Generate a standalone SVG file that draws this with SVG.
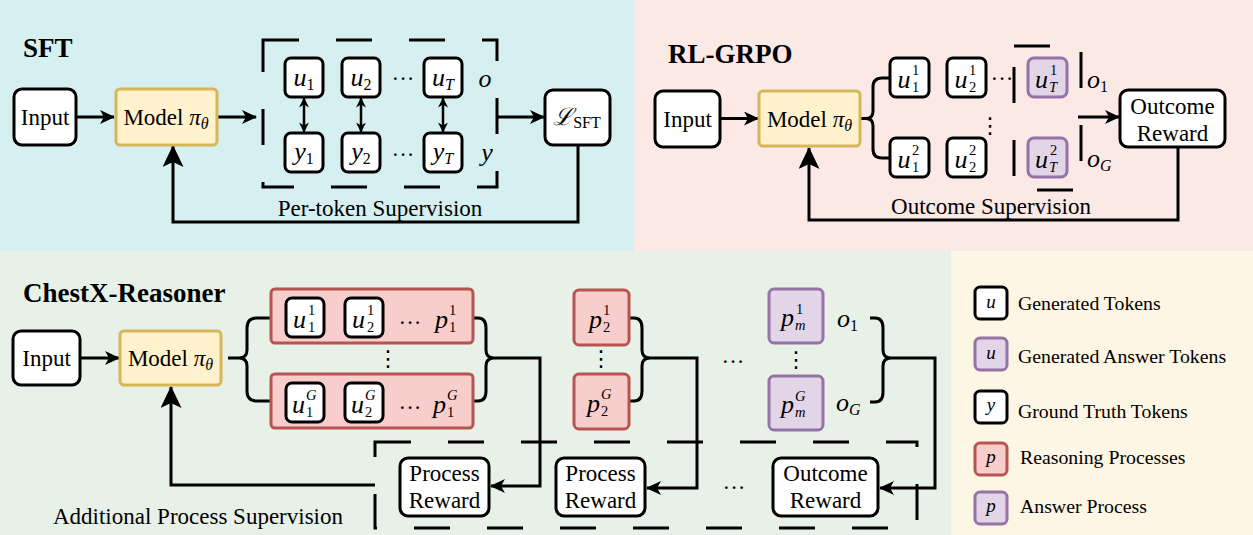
<svg xmlns="http://www.w3.org/2000/svg" width="1253" height="535" viewBox="0 0 1253 535">
<style>
.n{fill:#fff;stroke:#000;stroke-width:3}
.yl{fill:#fff2cc;stroke:#d6b656;stroke-width:3}
.r{fill:#f8cecc;stroke:#b85450;stroke-width:3}
.pu{fill:#e1d5e7;stroke:#9673a6;stroke-width:3}
.c{fill:none;stroke:#000;stroke-width:3}
.c2{fill:none;stroke:#000;stroke-width:2.5}
.d{fill:none;stroke:#000;stroke-width:3;stroke-dasharray:36 37}
text{font-family:"Liberation Serif","Times New Roman","DejaVu Serif",serif;font-size:23px;fill:#000}
.h{font-weight:bold;font-size:27px}
.i{font-style:italic}
.v{font-style:italic;font-size:26px}
.s{font-size:16px}
.t{font-size:14.5px}
.u{font-style:normal}
.lg{font-size:19.8px}
.li{font-style:italic;font-size:19px}
.vd{font-family:"DejaVu Sans",sans-serif;font-size:22px}
</style>
<defs>
<marker id="a" markerUnits="userSpaceOnUse" markerWidth="15" markerHeight="14" viewBox="0 0 15 14" refX="14" refY="7" orient="auto"><path d="M0,0 L15,7 L0,14 L4,7 z" fill="#000"/></marker>
<marker id="ab" markerUnits="userSpaceOnUse" markerWidth="22" markerHeight="21" viewBox="0 0 22 21" refX="21" refY="10.5" orient="auto"><path d="M0,0 L22,10.5 L0,21 L5,10.5 z" fill="#000"/></marker>
<marker id="as" markerUnits="userSpaceOnUse" markerWidth="10" markerHeight="10" viewBox="0 0 10 10" refX="9.5" refY="5" orient="auto-start-reverse"><path d="M0,0 L10,5 L0,10 L3,5 z" fill="#000"/></marker>
</defs>

<g id="backgrounds">
<rect x="0" y="0" width="634" height="251" fill="#d6eff0"/>
<rect x="634" y="0" width="619" height="251" fill="#fbe9e6"/>
<rect x="0" y="251" width="951" height="284" fill="#e8f1e8"/>
<rect x="951" y="251" width="302" height="284" fill="#fdf6e4"/>
</g>

<g id="titles">
<text class="h" x="23" y="57">SFT</text>
<text class="h" x="668" y="63">RL-GRPO</text>
<text class="h" x="23" y="302">ChestX-Reasoner</text>
</g>

<g id="groups">
<rect class="d" x="263" y="40" width="234" height="147"/>
<rect class="d" x="1014" y="46" width="67" height="144"/>
<rect class="d" x="375" y="442" width="542" height="86"/>
</g>

<g id="connectors">
<line class="c" x1="76" y1="117" x2="114" y2="117" marker-end="url(#a)"/>
<line class="c" x1="217" y1="117" x2="256" y2="117" marker-end="url(#a)"/>
<line class="c" x1="497" y1="117" x2="544" y2="117" marker-end="url(#a)"/>
<line class="c2" x1="304" y1="98" x2="304" y2="132" marker-start="url(#as)" marker-end="url(#as)"/>
<line class="c2" x1="361" y1="98" x2="361" y2="132" marker-start="url(#as)" marker-end="url(#as)"/>
<line class="c2" x1="443" y1="98" x2="443" y2="132" marker-start="url(#as)" marker-end="url(#as)"/>
<path class="c" d="M578,145 V222 H173 V146" marker-end="url(#ab)"/>
<line class="c" x1="720" y1="118.5" x2="758" y2="118.5" marker-end="url(#a)"/>
<path class="c" d="M860,118.5 H866 Q873,118.5 873,111 V87 Q873,78 882,78 H890 M866,118.5 Q873,118.5 873,126 V149 Q873,158 882,158 H890"/>
<line class="c" x1="1078" y1="117" x2="1119" y2="117" marker-end="url(#a)"/>
<path class="c" d="M1178,147 V220 H809 V148" marker-end="url(#ab)"/>
<line class="c" x1="80" y1="358" x2="119" y2="358" marker-end="url(#a)"/>
<path class="c" d="M228,358 H239 Q247,358 247,350 V328 Q247,318 257,318 H271 M239,358 Q247,358 247,366 V391 Q247,401 257,401 H271"/>
<path class="c" d="M473,318 H478 Q486,318 486,328 V350 Q486,358 494,358 M473,401 H478 Q486,401 486,391 V366 Q486,358 494,358 H540 V486 H491" marker-end="url(#a)"/>
<path class="c" d="M629,318 H634 Q642,318 642,328 V350 Q642,358 650,358 M629,401 H634 Q642,401 642,391 V366 Q642,358 650,358 H697 V488 H647" marker-end="url(#a)"/>
<path class="c" d="M870,318 H875 Q883,318 883,328 V350 Q883,358 891,358 M870,402 H875 Q883,402 883,392 V366 Q883,358 891,358 H935 V488 H880" marker-end="url(#a)"/>
<path class="c" d="M375,485 H171 V387" marker-end="url(#ab)"/>
</g>

<g id="sft-input"><rect class="n" x="14" y="89" width="62" height="56" rx="8"/><text x="45" y="125" text-anchor="middle">Input</text></g>
<g id="sft-model"><rect class="yl" x="116" y="89" width="101" height="56" rx="4"/><text x="166" y="125" text-anchor="middle">Model <tspan class="i">π</tspan><tspan class="i s" dy="4">θ</tspan></text></g>
<g id="sft-u1"><rect class="n" x="285" y="58" width="38" height="39" rx="6"/><text x="304" y="86" text-anchor="middle"><tspan class="v">u</tspan><tspan class="s" dy="4">1</tspan></text></g>
<g id="sft-u2"><rect class="n" x="342" y="58" width="38" height="39" rx="6"/><text x="361" y="86" text-anchor="middle"><tspan class="v">u</tspan><tspan class="s" dy="4">2</tspan></text></g>
<g id="sft-uT"><rect class="n" x="424" y="58" width="38" height="39" rx="6"/><text x="443" y="86" text-anchor="middle"><tspan class="v">u</tspan><tspan class="s i" dy="4">T</tspan></text></g>
<g id="sft-y1"><rect class="n" x="285" y="133" width="38" height="39" rx="6"/><text x="304" y="160" text-anchor="middle"><tspan class="v">y</tspan><tspan class="s" dy="4">1</tspan></text></g>
<g id="sft-y2"><rect class="n" x="342" y="133" width="38" height="39" rx="6"/><text x="361" y="160" text-anchor="middle"><tspan class="v">y</tspan><tspan class="s" dy="4">2</tspan></text></g>
<g id="sft-yT"><rect class="n" x="424" y="133" width="38" height="39" rx="6"/><text x="443" y="160" text-anchor="middle"><tspan class="v">y</tspan><tspan class="s i" dy="4">T</tspan></text></g>
<g id="sft-labels">
<text x="403" y="86" text-anchor="middle">···</text>
<text x="403" y="162" text-anchor="middle">···</text>
<text class="v" x="485" y="87" text-anchor="middle">o</text>
<text class="v" x="487" y="161" text-anchor="middle">y</text>
<text x="380" y="216" text-anchor="middle">Per-token Supervision</text>
</g>
<g id="sft-loss"><rect class="n" x="545" y="90" width="65" height="55" rx="8"/><text x="577" y="125" text-anchor="middle"><tspan class="i" font-size="24">ℒ</tspan><tspan class="s" dy="3">SFT</tspan></text></g>

<g id="rl-input"><rect class="n" x="655" y="91" width="65" height="56" rx="8"/><text x="687.5" y="127" text-anchor="middle">Input</text></g>
<g id="rl-model"><rect class="yl" x="759" y="91" width="101" height="55" rx="4"/><text x="809.5" y="127" text-anchor="middle">Model <tspan class="i">π</tspan><tspan class="i s" dy="4">θ</tspan></text></g>
<g id="rl-u11"><rect class="n" x="890" y="58" width="39" height="39" rx="6"/><text class="v" x="897.5" y="87.5">u<tspan class="t u" x="912" dy="-12.5">1</tspan><tspan class="t u" x="912" dy="16.5">1</tspan></text></g>
<g id="rl-u21"><rect class="n" x="947" y="58" width="39" height="39" rx="6"/><text class="v" x="954.5" y="87.5">u<tspan class="t u" x="969" dy="-12.5">1</tspan><tspan class="t u" x="969" dy="16.5">2</tspan></text></g>
<g id="rl-uT1"><rect class="pu" x="1028" y="58" width="39" height="39" rx="6"/><text class="v" x="1035" y="87.5">u<tspan class="t u" x="1050" dy="-12.5">1</tspan><tspan class="t" x="1049" dy="16.5">T</tspan></text></g>
<g id="rl-u12"><rect class="n" x="890" y="138" width="39" height="39" rx="6"/><text class="v" x="897.5" y="167.5">u<tspan class="t u" x="912" dy="-12.5">2</tspan><tspan class="t u" x="912" dy="16.5">1</tspan></text></g>
<g id="rl-u22"><rect class="n" x="947" y="138" width="39" height="39" rx="6"/><text class="v" x="954.5" y="167.5">u<tspan class="t u" x="969" dy="-12.5">2</tspan><tspan class="t u" x="969" dy="16.5">2</tspan></text></g>
<g id="rl-uT2"><rect class="pu" x="1028" y="138" width="39" height="39" rx="6"/><text class="v" x="1035" y="167.5">u<tspan class="t u" x="1050" dy="-12.5">2</tspan><tspan class="t" x="1049" dy="16.5">T</tspan></text></g>
<g id="rl-labels">
<text x="1002" y="86" text-anchor="middle">···</text>
<text class="vd" x="990" y="133" text-anchor="middle">⋮</text>
<text x="1087" y="88"><tspan class="v">o</tspan><tspan class="s" dy="4">1</tspan></text>
<text x="1087" y="167"><tspan class="v">o</tspan><tspan class="s i" dy="4">G</tspan></text>
<text x="991" y="214" text-anchor="middle">Outcome Supervision</text>
</g>
<g id="rl-reward"><rect class="n" x="1120" y="90" width="105" height="57" rx="8"/><text x="1172.5" y="114" text-anchor="middle">Outcome</text><text x="1172.5" y="141" text-anchor="middle">Reward</text></g>

<g id="cx-input"><rect class="n" x="13" y="331" width="67" height="54" rx="8"/><text x="46.5" y="366" text-anchor="middle">Input</text></g>
<g id="cx-model"><rect class="yl" x="120" y="331" width="101" height="54" rx="4"/><text x="170.5" y="366" text-anchor="middle">Model <tspan class="i">π</tspan><tspan class="i s" dy="4">θ</tspan></text></g>
<g id="cx-row1">
<rect class="r" x="271" y="289" width="202" height="54" rx="4"/>
<rect class="n" x="286" y="298" width="38" height="39" rx="6"/><text class="v" x="293" y="327.5">u<tspan class="t u" x="308" dy="-12.5">1</tspan><tspan class="t u" x="308" dy="16.5">1</tspan></text>
<rect class="n" x="345" y="298" width="38" height="39" rx="6"/><text class="v" x="352" y="327.5">u<tspan class="t u" x="367" dy="-12.5">1</tspan><tspan class="t u" x="367" dy="16.5">2</tspan></text>
<text x="410" y="330" text-anchor="middle">···</text>
<text class="v" x="435" y="327.5">p<tspan class="t u" x="449" dy="-12.5">1</tspan><tspan class="t u" x="449" dy="16.5">1</tspan></text>
</g>
<g id="cx-row2">
<rect class="r" x="271" y="374" width="202" height="54" rx="4"/>
<rect class="n" x="286" y="383" width="38" height="39" rx="6"/><text class="v" x="292" y="412.5">u<tspan class="t" x="306" dy="-12.5">G</tspan><tspan class="t u" x="306" dy="16.5">1</tspan></text>
<rect class="n" x="345" y="383" width="38" height="39" rx="6"/><text class="v" x="351" y="412.5">u<tspan class="t" x="365" dy="-12.5">G</tspan><tspan class="t u" x="365" dy="16.5">2</tspan></text>
<text x="410" y="415" text-anchor="middle">···</text>
<text class="v" x="433" y="412.5">p<tspan class="t" x="447" dy="-12.5">G</tspan><tspan class="t u" x="447" dy="16.5">1</tspan></text>
</g>
<g id="cx-p21"><rect class="r" x="574" y="290" width="55" height="55" rx="5"/><text class="v" x="589" y="327.5">p<tspan class="t u" x="603" dy="-12.5">1</tspan><tspan class="t u" x="603" dy="16.5">2</tspan></text></g>
<g id="cx-p2G"><rect class="r" x="574" y="374" width="55" height="55" rx="5"/><text class="v" x="587" y="411.5">p<tspan class="t" x="601" dy="-12.5">G</tspan><tspan class="t u" x="601" dy="16.5">2</tspan></text></g>
<g id="cx-pm1"><rect class="pu" x="769" y="289" width="54" height="54" rx="5"/><text class="v" x="781" y="326">p<tspan class="t u" x="796" dy="-12.5">1</tspan><tspan class="t" x="795" dy="16.5">m</tspan></text></g>
<g id="cx-pmG"><rect class="pu" x="769" y="376" width="54" height="54" rx="5"/><text class="v" x="781" y="413">p<tspan class="t" x="795" dy="-12.5">G</tspan><tspan class="t" x="795" dy="16.5">m</tspan></text></g>
<g id="cx-labels">
<text class="vd" x="388" y="366" text-anchor="middle">⋮</text>
<text class="vd" x="601" y="366" text-anchor="middle">⋮</text>
<text class="vd" x="796" y="367" text-anchor="middle">⋮</text>
<text x="733" y="369" text-anchor="middle">···</text>
<text x="734" y="495" text-anchor="middle">···</text>
<text x="837" y="327"><tspan class="v">o</tspan><tspan class="s" dy="4">1</tspan></text>
<text x="836" y="411"><tspan class="v">o</tspan><tspan class="s i" dy="4">G</tspan></text>
<text x="198" y="524" text-anchor="middle">Additional Process Supervision</text>
</g>
<g id="cx-pr1"><rect class="n" x="400" y="458" width="89" height="58" rx="8"/><text x="444.5" y="481" text-anchor="middle">Process</text><text x="444.5" y="508" text-anchor="middle">Reward</text></g>
<g id="cx-pr2"><rect class="n" x="556" y="458" width="89" height="58" rx="8"/><text x="600.5" y="481" text-anchor="middle">Process</text><text x="600.5" y="508" text-anchor="middle">Reward</text></g>
<g id="cx-or"><rect class="n" x="773" y="458" width="105" height="58" rx="8"/><text x="825.5" y="481" text-anchor="middle">Outcome</text><text x="825.5" y="508" text-anchor="middle">Reward</text></g>

<g id="legend-gen"><rect class="n" x="975" y="287" width="32" height="32" rx="5"/><text class="li" x="991" y="308" text-anchor="middle">u</text><text class="lg" x="1018" y="310">Generated Tokens</text></g>
<g id="legend-ans"><rect class="pu" x="975" y="338" width="32" height="32" rx="5"/><text class="li" x="991" y="359" text-anchor="middle">u</text><text class="lg" x="1018" y="363">Generated Answer Tokens</text></g>
<g id="legend-gt"><rect class="n" x="975" y="391" width="32" height="32" rx="5"/><text class="li" x="991" y="411" text-anchor="middle">y</text><text class="lg" x="1018" y="418">Ground Truth Tokens</text></g>
<g id="legend-rp"><rect class="r" x="975" y="443" width="32" height="32" rx="5"/><text class="li" x="991" y="463" text-anchor="middle">p</text><text class="lg" x="1020" y="464">Reasoning Processes</text></g>
<g id="legend-ap"><rect class="pu" x="975" y="492" width="32" height="32" rx="5"/><text class="li" x="991" y="512" text-anchor="middle">p</text><text class="lg" x="1020" y="513">Answer Process</text></g>
</svg>
